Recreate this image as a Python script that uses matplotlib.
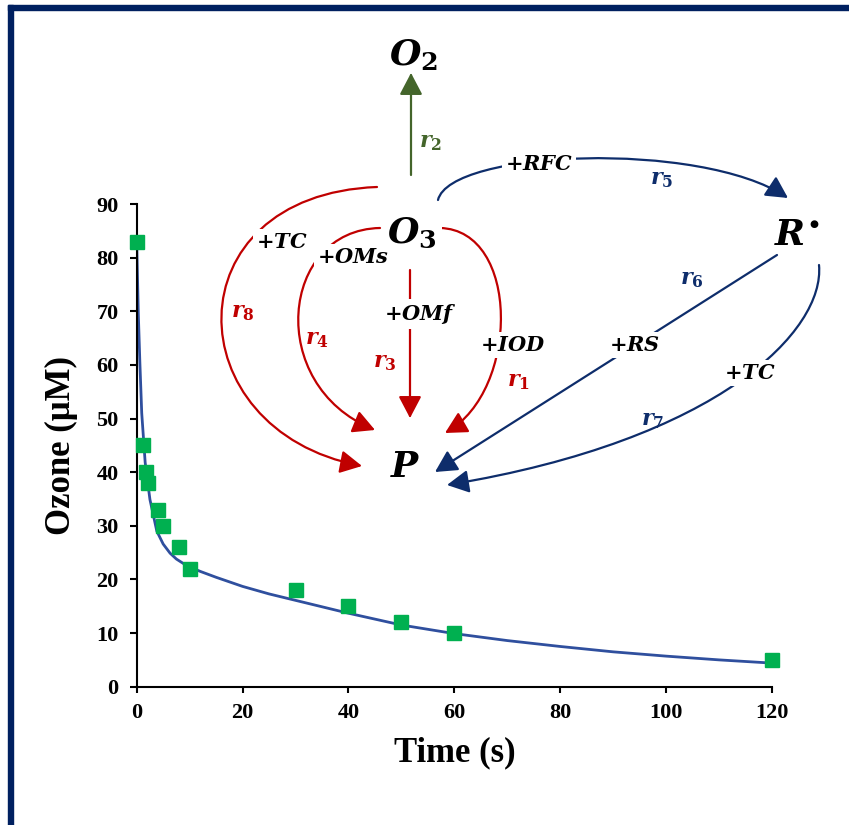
import numpy as np
import matplotlib
matplotlib.use("Agg")
import matplotlib.pyplot as plt
from matplotlib.path import Path
from matplotlib.patches import FancyArrowPatch, Rectangle

plt.rcParams['mathtext.fontset'] = 'custom'
plt.rcParams['mathtext.it'] = 'DejaVu Serif:italic:bold'
plt.rcParams['mathtext.rm'] = 'DejaVu Serif:bold'
plt.rcParams['mathtext.bf'] = 'DejaVu Serif:bold'

# measured ozone
time_s = [0, 1.25, 1.75, 2.2, 4, 5, 8, 10, 30, 40, 50, 60, 120]
ozone_uM = [83, 45, 40, 38, 33, 30, 26, 22, 18, 15, 12, 10, 5]

# fitted model curve
fit_t = [0, 0.3, 0.6, 0.95, 1.6, 2.5, 3.8, 5.0, 6.3, 7.5, 9.4, 12, 15, 20, 25, 30,
         40, 50, 60, 70, 80, 90, 100, 110, 120]
fit_v = [83, 69.7, 60.4, 51, 41.8, 34.9, 29.0, 26.6, 24.9, 23.8, 22.6, 21.5, 20.4, 18.7, 17.3, 16.1,
         13.7, 11.5, 9.9, 8.6, 7.5, 6.5, 5.7, 5.0, 4.4]

xticks = [0, 20, 40, 60, 80, 100, 120]
yticks = [0, 10, 20, 30, 40, 50, 60, 70, 80, 90]

W, H = 849, 825
fig = plt.figure(figsize=(W / 100, H / 100), dpi=100)

# navy frame (left and top)
fig.patches.append(Rectangle((8 / W, 0), 5 / W, 1 - 5 / H, transform=fig.transFigure,
                             color='#002060', zorder=0))
fig.patches.append(Rectangle((8 / W, 1 - 10 / H), 1, 5 / H, transform=fig.transFigure,
                             color='#002060', zorder=0))

ax = fig.add_axes([136.7 / W, 1 - 686.7 / H, (772 - 136.7) / W, (686.7 - 204) / H])
ax.plot(fit_t, fit_v, color='#2F4F9E', lw=2.0, zorder=2)
ax.plot(time_s, ozone_uM, 's', color='#00B050', ms=10, zorder=3, clip_on=False)
ax.set_xlim(0, 120)
ax.set_ylim(0, 90)
ax.set_xticks(xticks)
ax.set_yticks(yticks)
for s in ['top', 'right']:
    ax.spines[s].set_visible(False)
for s in ['left', 'bottom']:
    ax.spines[s].set_linewidth(1.5)
tfont = dict(family='Liberation Serif', weight='bold', size=16)
ax.set_xticklabels([str(v) for v in xticks], **tfont)
ax.set_yticklabels([str(v) for v in yticks], **tfont)
ax.tick_params(axis='x', length=4, width=1.5, pad=8)
ax.tick_params(axis='y', length=5, width=1.5, pad=8)
ax.set_xlabel('Time (s)', family='Liberation Serif', weight='bold', size=25, labelpad=9)
ax.set_ylabel('Ozone (μM)', family='Liberation Serif', weight='bold', size=25, labelpad=13)

# reaction scheme overlay, pixel coordinates
ov = fig.add_axes([0, 0, 1, 1])
ov.set_xlim(0, W)
ov.set_ylim(H, 0)
ov.axis('off')

RED = '#C00000'
GREEN = '#44652B'
BLUE = '#0E2D6B'


def curve(pts, color):
    codes = [Path.MOVETO] + [Path.CURVE4] * (len(pts) - 1) if len(pts) == 4 else [Path.MOVETO, Path.LINETO]
    p = Path(pts, codes)
    a = FancyArrowPatch(path=p, arrowstyle='-|>,head_length=0.95,head_width=0.5',
                        mutation_scale=14, color=color, lw=1.6, zorder=2)
    ov.add_patch(a)


curve([(411, 175), (411, 73)], GREEN)
curve([(438, 200), (450, 150), (700, 140), (788, 198)], BLUE)
curve([(777, 255), (435, 472)], BLUE)
curve([(819, 265), (825, 330), (720, 440), (447, 485)], BLUE)
curve([(377, 187), (170, 195), (175, 430), (362, 466)], RED)
curve([(380, 228), (280, 230), (265, 385), (375, 430)], RED)
curve([(410, 270), (410, 418)], RED)
curve([(440, 228), (520, 230), (520, 390), (445, 433)], RED)

box = dict(boxstyle='square,pad=0.15', fc='white', ec='none')


def label(x, y, s, size, color='black', bbox=True):
    ov.text(x, y, s, size=size, color=color, ha='center', va='center', zorder=4,
            bbox=box if bbox else None)


label(413, 55, r'$O_2$', 26, bbox=False)
label(412, 233, r'$O_3$', 26)
label(405, 467, r'$P$', 26, bbox=False)
label(797, 235, r'$R^{\bullet}$', 26, bbox=False)

label(539, 164, r'$+RFC$', 15)
label(282, 242, r'$+TC$', 15)
label(353, 257, r'$+OMs$', 15)
label(420, 314, r'$+OMf$', 15)
label(513, 345, r'$+IOD$', 15)
label(635, 345, r'$+RS$', 15)
label(750, 373, r'$+TC$', 15)

label(431, 143, r'$r_2$', 16, GREEN, False)
label(662, 180, r'$r_5$', 16, BLUE, False)
label(692, 280, r'$r_6$', 16, BLUE, False)
label(653, 421, r'$r_7$', 16, BLUE, False)
label(243, 313, r'$r_8$', 16, RED, False)
label(317, 340, r'$r_4$', 16, RED, False)
label(385, 363, r'$r_3$', 16, RED, False)
label(518, 382, r'$r_1$', 16, RED, False)

fig.savefig('out.png', dpi=100)
